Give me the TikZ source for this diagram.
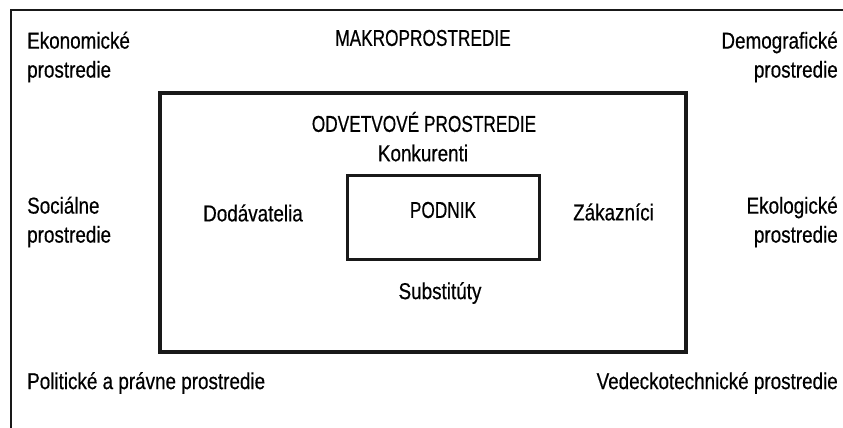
\documentclass[tikz,border=0pt]{standalone}
\usepackage{fontspec}
\setmainfont{Liberation Sans}
\newfontfamily\lowfont[FakeStretch=0.82,FakeBold=0.5]{Liberation Sans}
\newfontfamily\capfont[FakeStretch=0.75,FakeBold=0.5]{Liberation Sans}
\begin{document}
\begin{tikzpicture}[x=1pt,y=-1pt,
  txt/.style={inner sep=0pt, text=black, font=\lowfont\fontsize{23}{29}\selectfont},
  captxt/.style={inner sep=0pt, text=black, font=\capfont\fontsize{23}{29}\selectfont},
  frame/.style={draw=black!90, line width=2pt},
  boxA/.style={draw=black!90, line width=3.5pt, inner sep=0pt},
  boxB/.style={draw=black!90, line width=3pt, inner sep=0pt}]
\useasboundingbox (0,0) rectangle (843,428);
% outer (macro environment) frame
\draw[frame] (11,428) -- (11,10) -- (843,10);
% industry environment box and company box
\node[boxA, minimum width=526pt, minimum height=259pt] (odvbox) at (423,222.5) {};
\node[boxB, minimum width=192pt, minimum height=84pt] (podbox) at (443,217) {};
% texts
\node[captxt] (makro) at (423,38) {MAKROPROSTREDIE};
\node[txt, anchor=west, align=left] (eko) at (27,57) {Ekonomické\\prostredie};
\node[txt, anchor=east, align=right] (demo) at (838,57) {Demografické\\prostredie};
\node[txt, anchor=west, align=left] (soc) at (27,222) {Sociálne\\prostredie};
\node[txt, anchor=east, align=right] (ekol) at (838,222) {Ekologické\\prostredie};
\node[captxt] (odv) at (424,122) {ODVETVOVÉ PROSTREDIE};
\node[txt] (konk) at (423,153) {Konkurenti};
\node[txt, anchor=west] (dod) at (203,213) {Dodávatelia};
\node[captxt] (podnik) at (443,210) {PODNIK};
\node[txt, anchor=west] (zak) at (573,212) {Zákazníci};
\node[txt] (subst) at (440,293) {Substitúty};
\node[txt, anchor=west] (pol) at (27,383) {Politické a právne prostredie};
\node[txt, anchor=east] (ved) at (838,383) {Vedeckotechnické prostredie};
\end{tikzpicture}
\end{document}
